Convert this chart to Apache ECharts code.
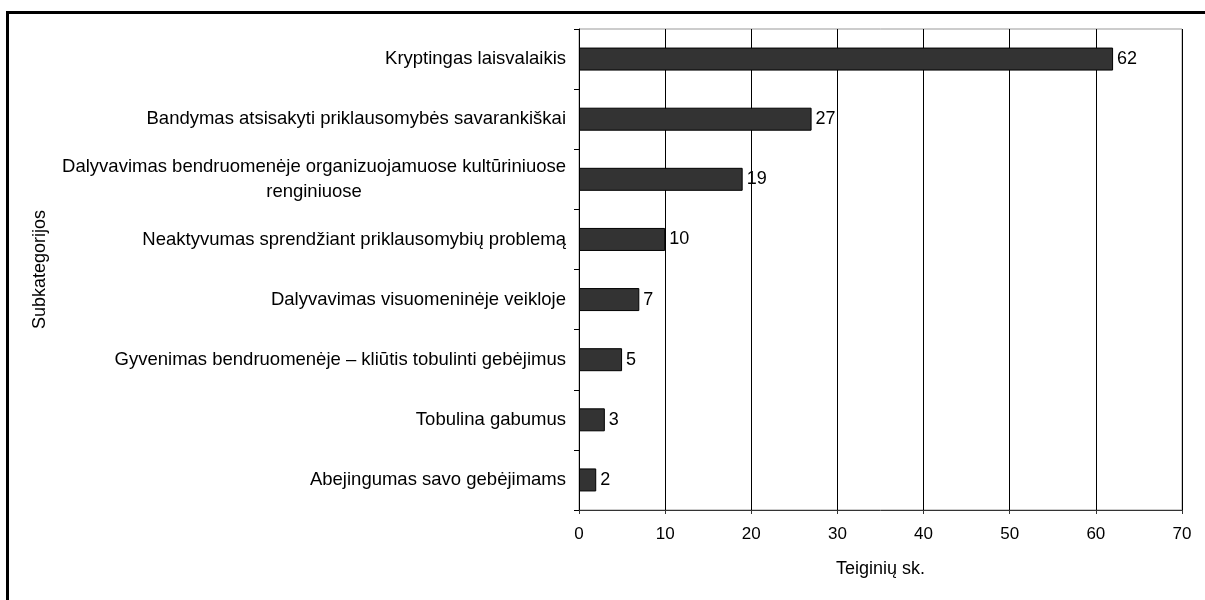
<!DOCTYPE html>
<html>
<head>
<meta charset="utf-8">
<script src="https://cdn.jsdelivr.net/npm/echarts@6/dist/echarts.min.js"></script>
<style>
html,body{margin:0;padding:0;background:#fff;}
#chart{width:1205px;height:600px;}
</style>
</head>
<body>
<div id="chart"></div>
<script>
const categories = [
  "Kryptingas laisvalaikis",
  "Bandymas atsisakyti priklausomybės savarankiškai",
  "Dalyvavimas bendruomenėje organizuojamuose kultūriniuose\nrenginiuose",
  "Neaktyvumas sprendžiant priklausomybių problemą",
  "Dalyvavimas visuomeninėje veikloje",
  "Gyvenimas bendruomenėje – kliūtis tobulinti gebėjimus",
  "Tobulina gabumus",
  "Abejingumas savo gebėjimams"
];
const values = [62, 27, 19, 10, 7, 5, 3, 2];
const xTicks = { min: 0, max: 70, interval: 10 };
const xName = "Teiginių sk.";
const yName = "Subkategorijos";

const FONT = "Liberation Sans, Arial, sans-serif";
const chart = echarts.init(document.getElementById('chart'), null, {renderer: 'canvas'});
chart.setOption({
  animation: false,
  backgroundColor: '#fff',
  grid: { left: 579, top: 29, right: 23, bottom: 90, containLabel: false,
          show: true, borderColor: '#999', borderWidth: 1 },
  graphic: [{
    type: 'rect', silent: true, z: 100,
    shape: { x: 7.5, y: 12.5, width: 1400, height: 800 },
    style: { fill: 'none', stroke: '#000', lineWidth: 3 }
  }],
  xAxis: {
    type: 'value', min: xTicks.min, max: xTicks.max, interval: xTicks.interval,
    name: xName, nameLocation: 'middle', nameGap: 50,
    nameTextStyle: { fontFamily: FONT, fontSize: 18, color: '#000' },
    axisLine: { show: true, lineStyle: { color: '#333', width: 1 } },
    axisTick: { show: true, length: 4, lineStyle: { color: '#333' } },
    axisLabel: { fontFamily: FONT, fontSize: 17, color: '#000', margin: 16 },
    splitLine: { show: true, lineStyle: { color: '#000', width: 1 } }
  },
  yAxis: {
    type: 'category', data: categories, inverse: true,
    name: yName, nameLocation: 'middle', nameGap: 530,
    nameTextStyle: { fontFamily: FONT, fontSize: 18, color: '#000' },
    axisLine: { show: true, lineStyle: { color: '#000', width: 1 } },
    axisTick: { show: true, length: 5, inside: false, alignWithLabel: false, lineStyle: { color: '#000' } },
    axisLabel: {
      margin: 13, color: '#000', fontFamily: FONT, fontSize: 18.5, lineHeight: 25,
      formatter: function (v) {
        return v.split('\n').map(function (s) { return '{c|' + s + '}'; }).join('\n');
      },
      rich: { c: { align: 'center', fontFamily: FONT, fontSize: 18.5, lineHeight: 25, color: '#000' } }
    },
    splitLine: { show: false }
  },
  series: [{
    type: 'bar', data: values, barWidth: 23,
    itemStyle: { color: '#333333', borderColor: '#000', borderWidth: 1 },
    label: { show: true, position: 'right', distance: 4, color: '#000',
             fontFamily: FONT, fontSize: 18 }
  }]
});
</script>
</body>
</html>
